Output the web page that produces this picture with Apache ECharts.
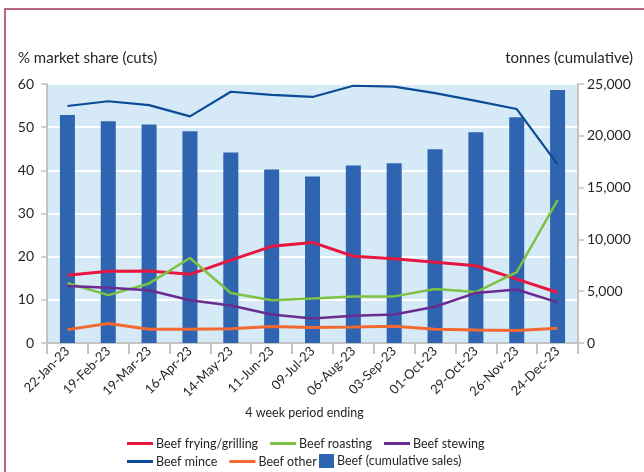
<!DOCTYPE html>
<html>
<head>
<meta charset="utf-8">
<script src="https://cdn.jsdelivr.net/npm/echarts@6/dist/echarts.min.js"></script>
<style>
  html, body { margin: 0; padding: 0; background: #fff; }
  #chart { width: 644px; height: 472px; }
</style>
</head>
<body>
<div id="chart"></div>
<script>
const periods = ['22-Jan-23', '19-Feb-23', '19-Mar-23', '16-Apr-23', '14-May-23', '11-Jun-23',
  '09-Jul-23', '06-Aug-23', '03-Sep-23', '01-Oct-23', '29-Oct-23', '26-Nov-23', '24-Dec-23'];

// % market share (left axis)
const fryingGrilling = [15.7, 16.6, 16.7, 15.9, 19.2, 22.4, 23.3, 20.1, 19.5, 18.7, 17.9, 14.8, 11.7];
const roasting = [13.9, 11.1, 13.8, 19.7, 11.6, 9.9, 10.3, 10.8, 10.8, 12.5, 11.8, 16.4, 33.1];
const stewing = [13.2, 12.8, 12.2, 9.9, 8.7, 6.6, 5.7, 6.3, 6.6, 8.4, 11.6, 12.4, 9.4];
const mince = [54.9, 56.0, 55.1, 52.5, 58.2, 57.5, 57.0, 59.6, 59.4, 57.9, 56.1, 54.2, 41.4];
const other = [3.1, 4.5, 3.2, 3.2, 3.3, 3.8, 3.6, 3.7, 3.9, 3.2, 3.0, 2.9, 3.4];

// tonnes cumulative (right axis)
const cumulativeSales = [22000, 21400, 21100, 20450, 18400, 16750, 16070, 17140, 17340, 18700, 20350, 21800, 24420];

const font = 'Lato';
const textColor = '#262626';

const chart = echarts.init(document.getElementById('chart'));

function lineSeries(name, data, color, width) {
  return {
    name: name,
    type: 'line',
    yAxisIndex: 0,
    data: data,
    symbol: 'none',
    smooth: false,
    lineStyle: { color: color, width: width },
    itemStyle: { color: color },
    z: 3
  };
}

const legendBase = {
  orient: 'horizontal',
  itemWidth: 26,
  itemHeight: 3,
  itemGap: 12,
  textStyle: { fontFamily: font, fontSize: 12.5, color: textColor, padding: [0, 0, 0, -2] },
  icon: 'rect'
};

const option = {
  animation: false,
  backgroundColor: '#fff',
  graphic: [{
    type: 'rect',
    shape: { x: 5, y: 9, width: 700, height: 500 },
    style: { fill: 'none', stroke: '#a3345f', lineWidth: 1.5 },
    silent: true
  }],
  legend: [
    Object.assign({}, legendBase, {
      left: 122, top: 432,
      data: ['Beef frying/grilling', 'Beef roasting', 'Beef stewing']
    }),
    Object.assign({}, legendBase, {
      left: 122, top: 450,
      data: ['Beef mince', 'Beef other']
    }),
    Object.assign({}, legendBase, {
      left: 314, top: 449,
      itemWidth: 15, itemHeight: 14,
      data: ['Beef (cumulative sales)']
    })
  ],
  grid: {
    left: 47, right: 66, top: 84, bottom: 129,
    show: true,
    backgroundColor: '#d5e9f7',
    borderWidth: 0
  },
  xAxis: {
    type: 'category',
    data: periods,
    boundaryGap: true,
    name: '4 week period ending',
    nameLocation: 'middle',
    nameGap: 62,
    nameTextStyle: { fontFamily: font, fontSize: 12.5, color: textColor, padding: [0, 16, 0, 0] },
    axisLine: { lineStyle: { color: '#c4c4c4', width: 2 } },
    axisTick: { show: true, length: 11, lineStyle: { color: '#c4c4c4', width: 2 } },
    axisLabel: {
      rotate: 45, margin: 6, interval: 0,
      fontFamily: font, fontSize: 13, color: textColor
    }
  },
  yAxis: [
    {
      type: 'value',
      min: 0, max: 60, interval: 10,
      position: 'left',
      name: '% market share (cuts)',
      nameLocation: 'end',
      nameGap: 18,
      nameTextStyle: { fontFamily: font, fontSize: 15, color: textColor, align: 'left', padding: [0, 0, 0, -29] },
      axisLine: { show: true, lineStyle: { color: '#c4c4c4', width: 2 } },
      axisTick: { show: true, length: 6, lineStyle: { color: '#c4c4c4', width: 1.5 } },
      axisLabel: { fontFamily: font, fontSize: 14, color: textColor, margin: 13 },
      splitLine: { show: true, lineStyle: { color: '#ffffff', width: 2 } }
    },
    {
      type: 'value',
      min: 0, max: 25000, interval: 5000,
      position: 'right',
      name: 'tonnes (cumulative)',
      nameLocation: 'end',
      nameGap: 18,
      nameTextStyle: { fontFamily: font, fontSize: 15, color: textColor, align: 'right', padding: [0, -55, 0, 0] },
      axisLine: { show: true, lineStyle: { color: '#c4c4c4', width: 2 } },
      axisTick: { show: true, length: 6, lineStyle: { color: '#c4c4c4', width: 1.5 } },
      axisLabel: {
        fontFamily: font, fontSize: 14, color: textColor, margin: 9,
        formatter: v => v.toLocaleString('en-US')
      },
      splitLine: { show: false }
    }
  ],
  series: [
    {
      name: 'Beef (cumulative sales)',
      type: 'bar',
      yAxisIndex: 1,
      data: cumulativeSales,
      barWidth: 15,
      itemStyle: { color: '#2e64b0' },
      z: 2
    },
    lineSeries('Beef frying/grilling', fryingGrilling, '#e8173f', 3),
    lineSeries('Beef roasting', roasting, '#7dc243', 2.5),
    lineSeries('Beef stewing', stewing, '#6a2c91', 2.5),
    lineSeries('Beef mince', mince, '#0b4b94', 2.2),
    lineSeries('Beef other', other, '#f26a32', 3)
  ]
};

chart.setOption(option);
</script>
</body>
</html>
